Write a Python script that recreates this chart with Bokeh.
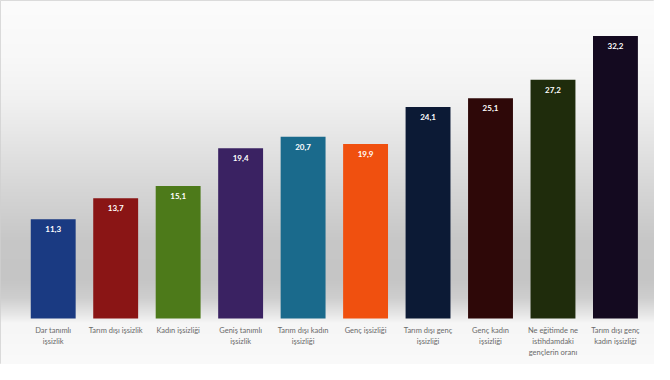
import numpy as np
from bokeh.plotting import figure
from bokeh.models import ColumnDataSource
from bokeh.core.properties import value
from bokeh.embed import file_html
from bokeh.resources import INLINE

categories = [
    "Dar tanımlı\nişsizlik",
    "Tarım dışı işsizlik",
    "Kadın işsizliği",
    "Geniş tanımlı\nişsizlik",
    "Tarım dışı kadın\nişsizliği",
    "Genç işsizliği",
    "Tarım dışı genç\nişsizliği",
    "Genç kadın\nişsizliği",
    "Ne eğitimde ne\nistihdamdaki\ngençlerin oranı",
    "Tarım dışı genç\nkadın işsizliği",
]
values = [11.3, 13.7, 15.1, 19.4, 20.7, 19.9, 24.1, 25.1, 27.2, 32.2]
value_labels = ["11,3", "13,7", "15,1", "19,4", "20,7", "19,9", "24,1", "25,1", "27,2", "32,2"]
colors = ["#1a3a82", "#8a1515", "#4d7a1a", "#3a2262", "#1a6a8c",
          "#f0500f", "#0c1a35", "#2e0808", "#1f2c0c", "#140a20"]

W, H = 654, 364
sx, sy = W / 670, H / 380
step = 64 * sx
first = 54 * sx
x0, x1 = -first / step, (W - first) / step
base = 332 * sy
ppu = (base - 37 * sy) / 32.2
y_top = base / ppu
y_bot = -(H - base) / ppu

p = figure(width=W, height=H, output_backend="svg", toolbar_location=None,
           x_range=(x0, x1), y_range=(y_bot, y_top), min_border=0)
p.xaxis.visible = False
p.yaxis.visible = False
p.xgrid.visible = False
p.ygrid.visible = False
p.outline_line_color = "#d0d0d0"
p.border_fill_color = "white"
p.background_fill_color = "white"

# background gradient (decoration), stops in reference pixel rows
stops_y = np.array([0, 60, 100, 150, 200, 250, 290, 310, 328, 336, 380]) * sy
stops_v = [252, 248, 242, 228, 213, 199, 197, 206, 232, 246, 250]
rows = np.interp(np.arange(H), stops_y, stops_v).astype(np.uint8)
img = np.zeros((H, 1), dtype=np.uint32)
view = img.view(dtype=np.uint8).reshape((H, 1, 4))
for r in range(H):
    g = rows[H - 1 - r]
    view[r, 0, 0] = g
    view[r, 0, 1] = g
    view[r, 0, 2] = g
    view[r, 0, 3] = 255
p.image_rgba(image=[img], x=x0, y=y_bot, dw=x1 - x0, dh=y_top - y_bot)

xs = list(range(len(values)))
src = ColumnDataSource(dict(x=xs, top=values, color=colors, cat=categories, lab=value_labels))
p.vbar(x="x", top="top", bottom=0, width=46 / 64, fill_color="color", line_color=None, source=src)

p.text(x="x", y="top", text="lab", source=src, text_color="white",
       text_font=value("Lato"), text_font_style="bold", text_font_size="8px",
       text_align="center", text_baseline="top", y_offset=7)

p.text(x="x", y=0, text="cat", source=src, text_color="#6a6a6a",
       text_font=value("Lato"), text_font_size="7.5px", text_line_height=1.25,
       text_align="center", text_baseline="top", y_offset=7)

open("out.html", "w").write(file_html(p, INLINE))
